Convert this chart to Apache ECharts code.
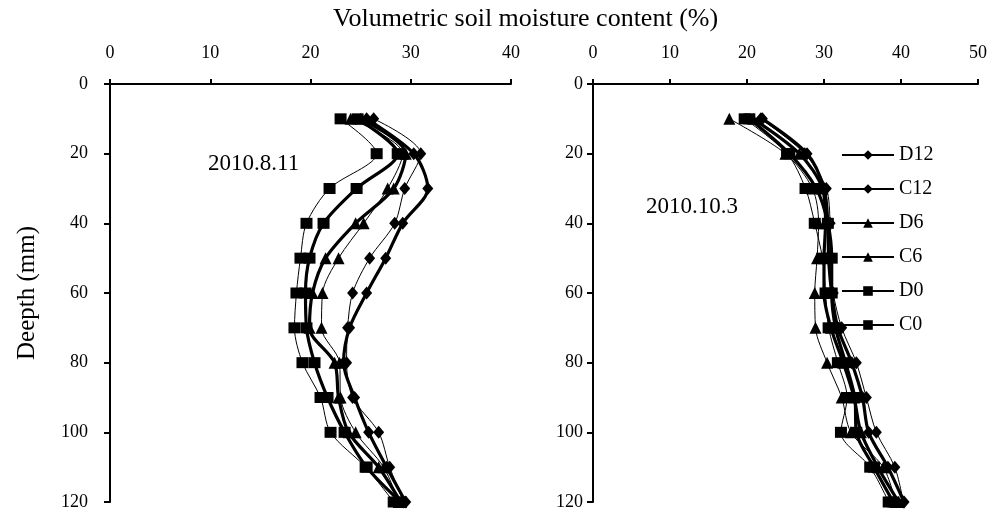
<!DOCTYPE html>
<html><head><meta charset="utf-8">
<script src="https://cdn.jsdelivr.net/npm/echarts@6/dist/echarts.min.js"></script>
<style>html,body{margin:0;padding:0;background:#fff}#c{width:990px;height:512px}</style>
</head><body><div id="c"></div>
<script>
// Depth (mm) of each measurement
const depths = [10, 20, 30, 40, 50, 60, 70, 80, 90, 100, 110, 120];
const seriesNames = ['D12', 'C12', 'D6', 'C6', 'D0', 'C0'];
const panelLabels = ['2010.8.11', '2010.10.3'];
const titleText = 'Volumetric soil moisture content (%)';
const yName = 'Deepth (mm)';

// 2010.8.11 volumetric soil moisture (%)
const aug_D12 = [26.3, 31.0, 29.4, 28.4, 25.9, 24.2, 23.7, 23.6, 24.2, 26.8, 27.9, 29.3];
const aug_C12 = [25.6, 30.3, 31.7, 29.2, 27.5, 25.6, 23.9, 23.3, 24.4, 25.8, 27.6, 29.5];
const aug_D6  = [24.0, 29.2, 27.7, 25.3, 22.8, 21.2, 21.1, 22.9, 23.0, 24.5, 27.3, 28.8];
const aug_C6  = [25.0, 29.5, 28.3, 24.5, 21.5, 20.2, 19.9, 22.4, 22.8, 23.8, 26.8, 29.0];
const aug_D0  = [23.0, 26.6, 21.9, 19.6, 19.0, 18.6, 18.4, 19.2, 21.0, 22.0, 25.5, 28.3];
const aug_C0  = [24.7, 28.7, 24.6, 21.3, 19.9, 19.5, 19.6, 20.4, 21.7, 23.4, 25.6, 29.0];

// 2010.10.3 volumetric soil moisture (%)
const oct_D12 = [21.8, 27.5, 30.3, 30.8, 30.9, 31.2, 32.3, 34.2, 35.5, 36.8, 39.2, 40.3];
const oct_C12 = [22.0, 27.8, 30.0, 30.5, 30.6, 31.0, 31.8, 33.6, 35.0, 35.8, 38.3, 40.4];
const oct_D6  = [17.7, 25.0, 28.5, 29.3, 29.1, 28.8, 28.9, 30.4, 32.3, 33.5, 37.7, 39.3];
const oct_C6  = [20.8, 26.8, 29.8, 30.2, 30.0, 30.0, 30.9, 32.5, 33.9, 34.8, 37.0, 39.7];
const oct_D0  = [19.7, 25.2, 27.6, 28.8, 29.8, 30.2, 30.6, 31.8, 33.0, 32.2, 36.0, 38.4];
const oct_C0  = [20.3, 25.5, 29.0, 30.5, 31.0, 31.0, 31.5, 32.8, 34.0, 34.2, 36.5, 39.0];

const augData = [aug_D12, aug_C12, aug_D6, aug_C6, aug_D0, aug_C0];
const octData = [oct_D12, oct_C12, oct_D6, oct_C6, oct_D0, oct_C0];

const FONT = 'Liberation Serif';
const symbols = ['diamond', 'diamond', 'triangle', 'triangle', 'rect', 'rect'];
const symSizes = [[11, 13], [11, 13], 12, 12, [12, 11], [12, 11]];
const widths = [1, 3.2, 1, 3.2, 1, 3.2];

function mk(values, idx, gi) {
  return {
    name: seriesNames[idx], type: 'line', xAxisIndex: gi, yAxisIndex: gi,
    data: values.map((v, i) => [v, depths[i]]),
    symbol: symbols[idx], symbolSize: symSizes[idx], smooth: 0.3,
    lineStyle: { color: '#000', width: widths[idx] },
    itemStyle: { color: '#000' }, z: 3, animation: false
  };
}

const series = [];
augData.forEach((a, i) => series.push(mk(a, i, 0)));
octData.forEach((a, i) => series.push(mk(a, i, 1)));

function xAx(gi, max) {
  return {
    gridIndex: gi, type: 'value', position: 'top', min: 0, max: max, interval: 10,
    axisLine: { show: true, onZero: false, lineStyle: { color: '#000', width: 2 } },
    axisTick: { show: true, inside: false, length: 5, lineStyle: { color: '#000', width: 2 } },
    axisLabel: { color: '#000', fontFamily: FONT, fontSize: 18, margin: 22 },
    splitLine: { show: false }
  };
}
function yAx(gi, margin) {
  return {
    gridIndex: gi, type: 'value', inverse: true, min: 0, max: 120, interval: 20,
    axisLine: { show: true, onZero: false, lineStyle: { color: '#000', width: 2 } },
    axisTick: { show: true, inside: false, length: 6, lineStyle: { color: '#000', width: 2 } },
    axisLabel: { color: '#000', fontFamily: FONT, fontSize: 18, margin: margin },
    splitLine: { show: false }
  };
}

const chart = echarts.init(document.getElementById('c'), null, { renderer: 'canvas' });
chart.setOption({
  backgroundColor: '#fff',
  animation: false,
  grid: [
    { left: 110, top: 84, width: 401, height: 418 },
    { left: 593, top: 84, width: 385, height: 418 }
  ],
  xAxis: [xAx(0, 40), xAx(1, 50)],
  yAxis: [yAx(0, 22), yAx(1, 10)],
  legend: {
    data: seriesNames, orient: 'vertical', left: 836, top: 140,
    itemWidth: 52, itemHeight: 12, itemGap: 14,
    textStyle: { color: '#000', fontFamily: FONT, fontSize: 20 }
  },
  graphic: [
    { type: 'text', left: 333, top: 6, style: { text: titleText, fill: '#000', font: '26px "Liberation Serif"' } },
    { type: 'text', left: 208, top: 152, style: { text: panelLabels[0], fill: '#000', font: '23px "Liberation Serif"' } },
    { type: 'text', left: 646, top: 195, style: { text: panelLabels[1], fill: '#000', font: '23px "Liberation Serif"' } },
    { type: 'text', x: 27, y: 293, rotation: Math.PI / 2, style: { text: yName, fill: '#000', font: '25px "Liberation Serif"', textAlign: 'center', textVerticalAlign: 'middle' } }
  ],
  series: series
});
</script></body></html>
